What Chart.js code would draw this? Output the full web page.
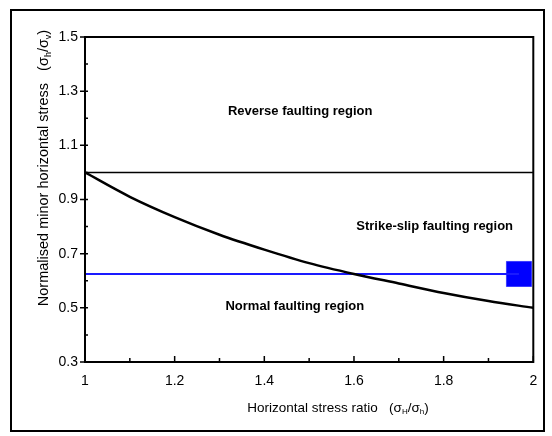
<!DOCTYPE html>
<html>
<head>
<meta charset="utf-8">
<script src="https://cdn.jsdelivr.net/npm/chart.js@4/dist/chart.umd.min.js"></script>
<style>
  body { margin: 0; background: #fff; }
</style>
</head>
<body>
<canvas id="chart" width="552" height="436"></canvas>
<script>
// data
var xTickVals = [1, 1.1, 1.2, 1.3, 1.4, 1.5, 1.6, 1.7, 1.8, 1.9, 2];
var xMajor = [1, 1.2, 1.4, 1.6, 1.8, 2];
var yTickVals = [0.3, 0.4, 0.5, 0.6, 0.7, 0.8, 0.9, 1.0, 1.1, 1.2, 1.3, 1.4, 1.5];
var yMajor = [0.3, 0.5, 0.7, 0.9, 1.1, 1.3, 1.5];

var curveX = [1, 1.1, 1.2, 1.3, 1.4, 1.5, 1.6, 1.7, 1.8, 1.9, 2];
var curveY = [1.0, 0.91, 0.835, 0.77, 0.715, 0.665, 0.625, 0.59, 0.555, 0.525, 0.5];
var boundaryX = [1, 2];
var boundaryY = [1.0, 1.0];
var blueX = [1, 1.968];
var blueY = [0.625, 0.625];
var markerX = [1.968];
var markerY = [0.625];

var regionLabels = ["Reverse faulting region", "Strike-slip faulting region", "Normal faulting region"];
var regionX = [1.48, 1.78, 1.468];
var regionY = [1.225, 0.80, 0.505];

function pts(xs, ys) {
  return xs.map(function (x, i) { return { x: x, y: ys[i] }; });
}
function isMajor(list, v) {
  return list.some(function (m) { return Math.abs(m - v) < 1e-6; });
}

// draws text with subscript parts, centred on (cx, cy)
function drawRich(ctx, parts, cx, cy, size) {
  var mainFont = size + "px 'Liberation Sans', Arial, sans-serif";
  var subFont = Math.round(size * 0.62) + "px 'Liberation Sans', Arial, sans-serif";
  var total = 0;
  parts.forEach(function (p) {
    ctx.font = p.sub ? subFont : mainFont;
    p.w = ctx.measureText(p.t).width;
    total += p.w;
  });
  var x = cx - total / 2;
  ctx.textAlign = "left";
  ctx.textBaseline = "middle";
  parts.forEach(function (p) {
    ctx.font = p.sub ? subFont : mainFont;
    ctx.fillText(p.t, x, p.sub ? cy + size * 0.3 : cy);
    x += p.w;
  });
}

var decor = {
  id: "decor",
  afterDraw: function (chart) {
    var ctx = chart.ctx;
    var a = chart.chartArea;
    var xs = chart.scales.x, ys = chart.scales.y;
    ctx.save();
    ctx.strokeStyle = "#000";
    ctx.fillStyle = "#000";

    // outer frame
    ctx.lineWidth = 2;
    ctx.strokeRect(11, 10, 533, 421);

    // plot box
    ctx.lineWidth = 2;
    ctx.strokeRect(a.left, a.top, a.right - a.left, a.bottom - a.top);

    // ticks
    ctx.lineWidth = 1.5;
    ctx.beginPath();
    yTickVals.forEach(function (v) {
      var p = ys.getPixelForValue(v);
      if (isMajor(yMajor, v)) { ctx.moveTo(a.left - 5, p); ctx.lineTo(a.left + 3, p); }
      else { ctx.moveTo(a.left, p); ctx.lineTo(a.left + 3, p); }
    });
    xTickVals.forEach(function (v) {
      var p = xs.getPixelForValue(v);
      var len = isMajor(xMajor, v) ? 6 : 4;
      ctx.moveTo(p, a.bottom); ctx.lineTo(p, a.bottom - len);
    });
    ctx.stroke();

    // region labels
    ctx.font = "bold 13px 'Liberation Sans', Arial, sans-serif";
    ctx.textAlign = "center";
    ctx.textBaseline = "middle";
    regionLabels.forEach(function (t, i) {
      ctx.fillText(t, xs.getPixelForValue(regionX[i]), ys.getPixelForValue(regionY[i]));
    });

    // axis titles
    drawRich(ctx, [
      { t: "Horizontal stress ratio   (σ" }, { t: "H", sub: true },
      { t: "/σ" }, { t: "h", sub: true }, { t: ")" }
    ], 338, 408, 13.5);

    ctx.translate(44, 168);
    ctx.rotate(-Math.PI / 2);
    drawRich(ctx, [
      { t: "Normalised minor horizontal stress   (σ" }, { t: "h", sub: true },
      { t: "/σ" }, { t: "v", sub: true }, { t: ")" }
    ], 0, 0, 14.5);
    ctx.restore();
  }
};

var chart = new Chart(document.getElementById("chart"), {
  type: "scatter",
  data: {
    datasets: [
      {
        data: pts(boundaryX, boundaryY),
        showLine: true,
        borderColor: "#000",
        borderWidth: 1.5,
        pointRadius: 0
      },
      {
        data: pts(curveX, curveY),
        showLine: true,
        borderColor: "#000",
        borderWidth: 2.5,
        pointRadius: 0,
        tension: 0.4,
        cubicInterpolationMode: "monotone"
      },
      {
        data: pts(blueX, blueY),
        showLine: true,
        borderColor: "#1a1aff",
        borderWidth: 2,
        pointRadius: 0
      },
      {
        data: pts(markerX, markerY),
        pointStyle: "rect",
        pointRadius: 17.7,
        backgroundColor: "#0000ff",
        borderColor: "#3b3bff",
        borderWidth: 1
      }
    ]
  },
  options: {
    responsive: false,
    animation: false,
    layout: { padding: { left: 0, top: 37, right: 15, bottom: 0 } },
    plugins: { legend: { display: false }, tooltip: { enabled: false } },
    scales: {
      x: {
        type: "linear",
        min: 1,
        max: 2,
        afterBuildTicks: function (s) { s.ticks = xTickVals.map(function (v) { return { value: v }; }); },
        afterFit: function (s) { s.height = 74; s.paddingLeft = 0; s.paddingRight = 0; },
        grid: { display: false, drawTicks: false },
        border: { display: false },
        ticks: {
          autoSkip: false,
          maxRotation: 0,
          padding: 11,
          color: "#000",
          font: { size: 14, family: "'Liberation Sans', Arial, sans-serif" },
          callback: function (v) { return isMajor(xMajor, v) ? String(+v.toFixed(1)) : ""; }
        }
      },
      y: {
        type: "linear",
        min: 0.3,
        max: 1.5,
        afterBuildTicks: function (s) { s.ticks = yTickVals.map(function (v) { return { value: v }; }); },
        afterFit: function (s) { s.width = 85; s.paddingTop = 0; s.paddingBottom = 0; },
        grid: { display: false, drawTicks: false },
        border: { display: false },
        ticks: {
          autoSkip: false,
          padding: 7,
          color: "#000",
          font: { size: 14, family: "'Liberation Sans', Arial, sans-serif" },
          callback: function (v) { return isMajor(yMajor, v) ? v.toFixed(1) : ""; }
        }
      }
    }
  },
  plugins: [decor]
});
</script>
</body>
</html>
